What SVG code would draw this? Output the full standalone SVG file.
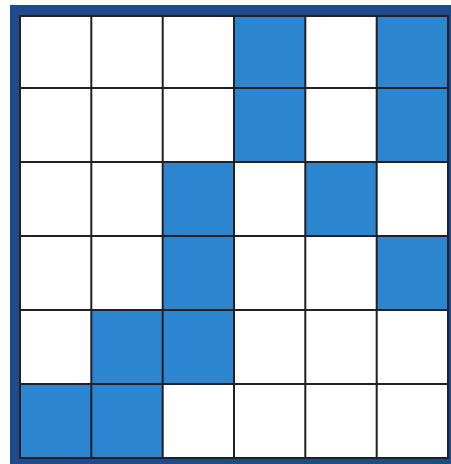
<svg xmlns="http://www.w3.org/2000/svg" width="451" height="464" viewBox="0 0 451 464">
<style>
.b{fill:#2c86cf}
.g{stroke:#231f24;stroke-width:2;fill:none}
</style>
<rect x="0" y="0" width="451" height="464" fill="#ffffff"/>
<rect id="frame" x="10" y="5" width="441" height="459" fill="#1f4a8c"/>
<rect x="20" y="16" width="428" height="442" fill="#ffffff"/>
<g id="cells">
<rect class="b" x="234" y="16" width="71.3" height="72"/>
<rect class="b" x="376.7" y="16" width="71.3" height="72"/>
<rect class="b" x="234" y="88" width="71.3" height="74"/>
<rect class="b" x="376.7" y="88" width="71.3" height="74"/>
<rect class="b" x="162.7" y="162" width="71.3" height="74"/>
<rect class="b" x="305.3" y="162" width="71.4" height="74"/>
<rect class="b" x="162.7" y="236" width="71.3" height="74"/>
<rect class="b" x="376.7" y="236" width="71.3" height="74"/>
<rect class="b" x="91.3" y="310" width="71.4" height="74"/>
<rect class="b" x="162.7" y="310" width="71.3" height="74"/>
<rect class="b" x="20" y="384" width="71.3" height="74"/>
<rect class="b" x="91.3" y="384" width="71.4" height="74"/>
</g>
<g id="grid" class="g">
<path d="M91.3 16V458M162.7 16V458M234 16V458M305.3 16V458M376.7 16V458"/>
<path d="M20 88H448M20 162H448M20 236H448M20 310H448M20 384H448"/>
<rect x="20" y="16" width="428" height="442"/>
</g>
</svg>
